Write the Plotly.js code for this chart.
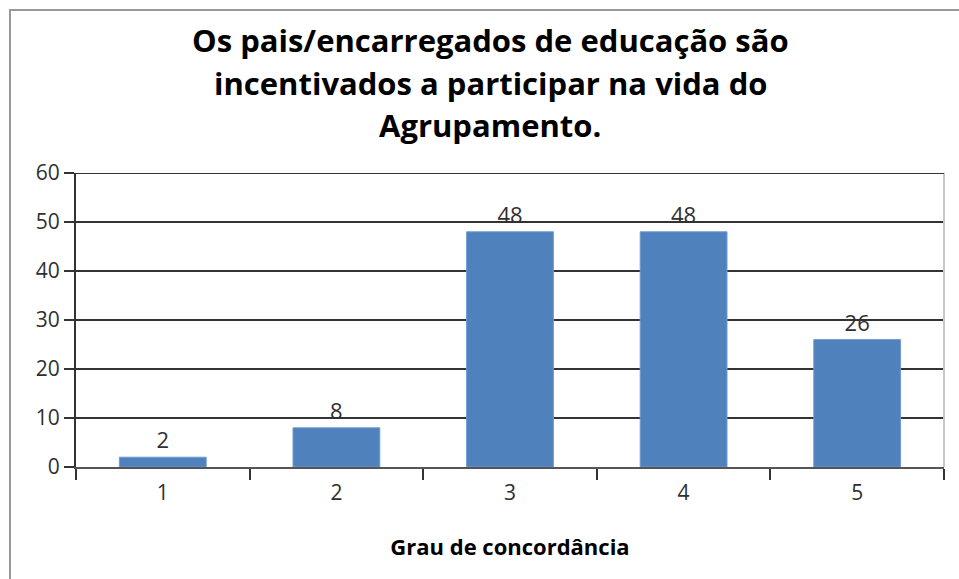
<!DOCTYPE html>
<html>
<head>
<meta charset="utf-8">
<script src="https://cdn.plot.ly/plotly-3.0.1.min.js"></script>
<style>
  html, body { margin: 0; padding: 0; background: #fff; }
  #chart { width: 959px; height: 579px; }
</style>
</head>
<body>
<div id="chart"></div>
<script>
// ---- data ----
var graus = ["1", "2", "3", "4", "5"];
var respostas = [2, 8, 48, 48, 26];
var yTicks = [0, 10, 20, 30, 40, 50, 60];
var tituloLinhas = [
	"Os pais/encarregados de educação são",
	"incentivados a participar na vida do",
	"Agrupamento."
];
var eixoX = "Grau de concordância";

var chart = document.getElementById("chart");
var fonte = "'Open Sans', 'Noto Sans', sans-serif";

var barras = {
	type: "bar",
	x: graus,
	y: respostas,
	text: respostas.map(String),
	textposition: "outside",
	cliponaxis: false,
	textfont: {family: fonte, size: 22, color: "#303030"},
	marker: {color: "#4F81BD", line: {color: "#6f9bd0", width: 1}},
	hoverinfo: "none"
};

// title lines as separate annotations so the line spacing matches
var notas = tituloLinhas.map(function (linha, i) {
	return {
		text: "<b>" + linha + "</b>",
		xref: "paper", yref: "paper",
		x: (490 - 76) / 868,
		y: (467 - (40 + i * 42.5)) / 294,
		xanchor: "center", yanchor: "middle",
		showarrow: false,
		font: {family: fonte, size: 31, color: "#000"}
	};
});

var layout = {
	width: 959,
	height: 579,
	margin: {l: 76, r: 15, t: 173, b: 112},
	paper_bgcolor: "#fff",
	plot_bgcolor: "#fff",
	showlegend: false,
	bargap: 0.5,
	font: {family: fonte, color: "#303030"},
	xaxis: {
		type: "category",
		tickson: "boundaries",
		ticks: "outside",
		ticklen: 11,
		tickwidth: 2,
		tickcolor: "#333",
		ticklabelstandoff: 6,
		showline: true,
		linecolor: "#555",
		linewidth: 2,
		showgrid: false,
		tickfont: {size: 21, color: "#303030"},
		title: {text: "<b>" + eixoX + "</b>", font: {size: 22, color: "#000"}, standoff: 34},
		fixedrange: true
	},
	yaxis: {
		range: [0, 60],
		tickvals: yTicks,
		ticks: "outside",
		ticklen: 10,
		tickwidth: 2,
		tickcolor: "#333",
		showline: true,
		linecolor: "#333",
		linewidth: 2,
		showgrid: true,
		gridcolor: "#333",
		gridwidth: 2,
		zeroline: false,
		tickfont: {size: 21, color: "#303030"},
		fixedrange: true
	},
	annotations: notas,
	shapes: [
		{ // right edge of plot area
			type: "line", xref: "paper", yref: "paper",
			x0: 1, x1: 1, y0: 0, y1: 1,
			line: {color: "#c8c8c8", width: 2}
		},
		{ // top gridline at 60
			type: "line", xref: "paper", yref: "y",
			x0: 0, x1: 1, y0: 60, y1: 60,
			line: {color: "#333", width: 2}
		},
		{ // outer frame (top and left only show in the picture)
			type: "rect", xref: "paper", yref: "paper", layer: "below",
			x0: (10 - 76) / 868, x1: (975 - 76) / 868,
			y0: (467 - 600) / 294, y1: (467 - 10) / 294,
			line: {color: "#999", width: 2}
		}
	]
};

Plotly.newPlot(chart, [barras], layout, {displayModeBar: false, staticPlot: true});
</script>
</body>
</html>
